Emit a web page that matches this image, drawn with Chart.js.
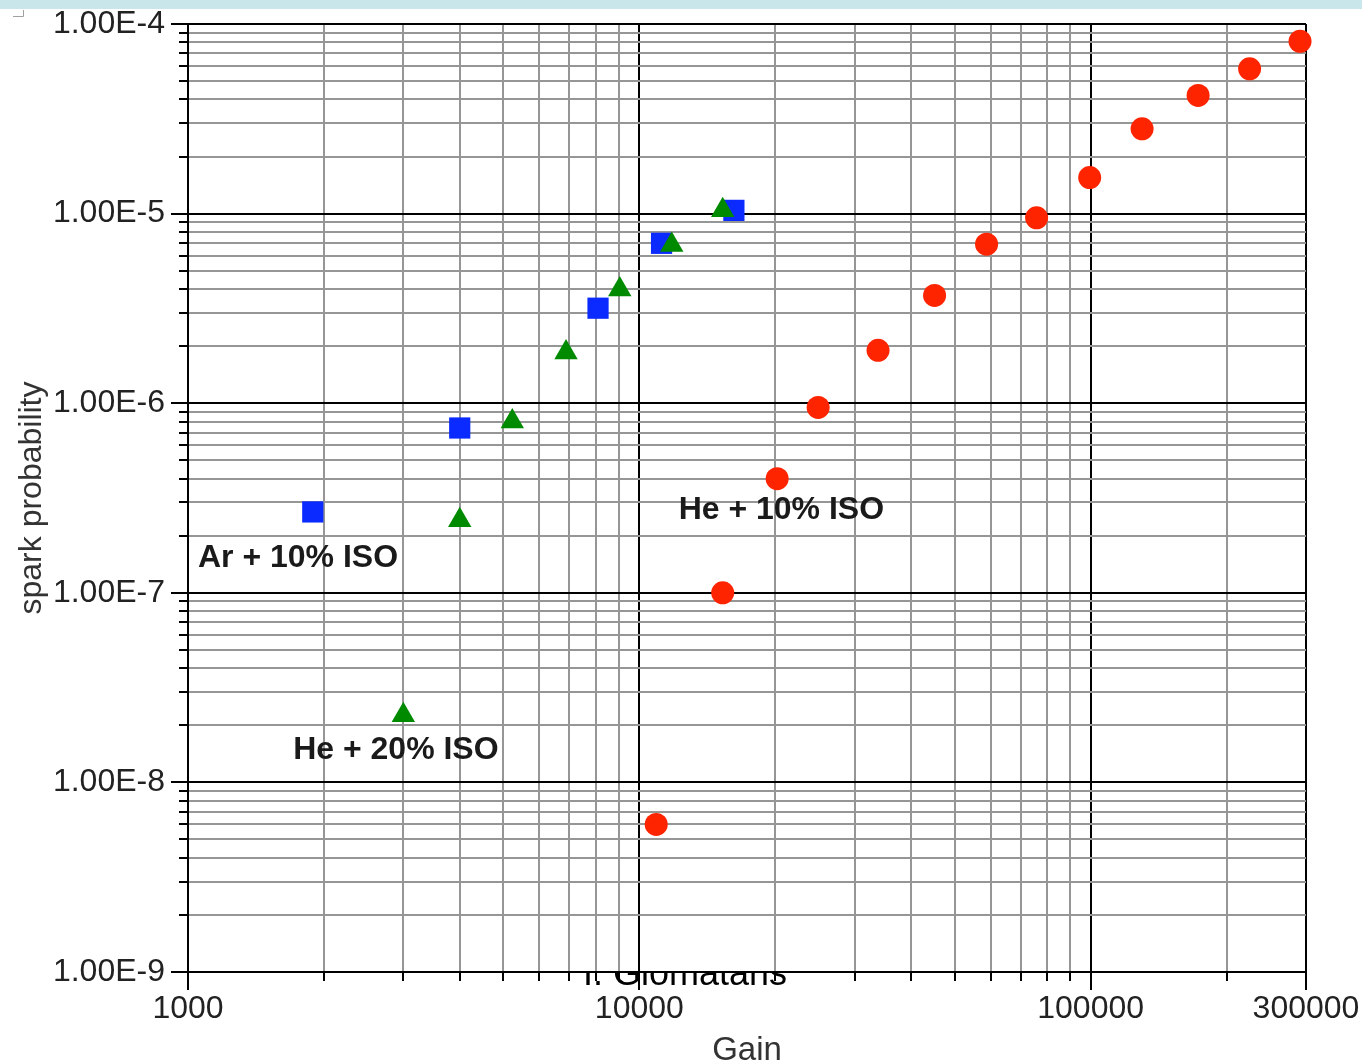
<!DOCTYPE html>
<html>
<head>
<meta charset="utf-8">
<title>Spark probability vs gain</title>
<script src="https://cdn.jsdelivr.net/npm/chart.js@4.4.1/dist/chart.umd.min.js"></script>
<style>
  html, body { margin: 0; padding: 0; background: #fff; }
  canvas { display: block; }
</style>
</head>
<body>
<canvas id="chart" width="1362" height="1062"></canvas>
<script>
// Measured spark probability against gas gain, one pair of arrays per gas mixture
const gainHe20 = [3000, 4000, 5230, 6880, 9050, 11800, 15300];
const probHe20 = [2.26e-8, 2.41e-7, 8.0e-7, 1.85e-6, 3.98e-6, 6.83e-6, 1.04e-5];

const gainAr10 = [1890, 4000, 8100, 11200, 16200];
const probAr10 = [2.67e-7, 7.4e-7, 3.17e-6, 6.97e-6, 1.04e-5];

const gainHe10 = [10900, 15300, 20200, 24900, 33800, 45100, 58800, 75900, 99500, 130000, 173000, 225000, 291000];
const probHe10 = [6.0e-9, 1.0e-7, 4.0e-7, 9.5e-7, 1.9e-6, 3.7e-6, 6.9e-6, 9.5e-6, 1.55e-5, 2.8e-5, 4.2e-5, 5.8e-5, 8.1e-5];

const seriesNames = ['He + 20% ISO', 'Ar + 10% ISO', 'He + 10% ISO'];

// Text labels placed next to each series, anchored in data coordinates
const labelGain = [1710, 1052, 12220];
const labelProb = [1.48e-8, 1.52e-7, 2.73e-7];

// Axis ticks: every 1..9 multiple inside each decade
const xTickValues = [1000, 2000, 3000, 4000, 5000, 6000, 7000, 8000, 9000,
                     10000, 20000, 30000, 40000, 50000, 60000, 70000, 80000, 90000,
                     100000, 200000, 300000];
const xTickLabels = ['1000', '10000', '100000', '300000'];
const yDecadeExps = [-9, -8, -7, -6, -5, -4];
const yTickLabels = ['1.00E-9', '1.00E-8', '1.00E-7', '1.00E-6', '1.00E-5', '1.00E-4'];

const yTickValues = [];
yDecadeExps.forEach((e, i) => {
  const base = Math.pow(10, e);
  const last = i === yDecadeExps.length - 1 ? 1 : 9;
  for (let m = 1; m <= last; m++) yTickValues.push(m * base);
});

const X_MIN = 1000, X_MAX = 300000;
const Y_MIN = 1e-9, Y_MAX = 1e-4;

const isDecade = v => Math.abs(Math.log10(v) - Math.round(Math.log10(v))) < 1e-9;
const xLabelFor = v => {
  const s = String(Math.round(v));
  return xTickLabels.includes(s) ? s : '';
};
const yLabelFor = v => {
  if (!isDecade(v)) return '';
  const idx = yDecadeExps.indexOf(Math.round(Math.log10(v)));
  return idx >= 0 ? yTickLabels[idx] : '';
};

const toPoints = (xs, ys) => xs.map((x, i) => ({x, y: ys[i]}));

const FONT = '"Liberation Sans", Arial, Helvetica, sans-serif';
Chart.defaults.font.family = FONT;
Chart.defaults.color = '#222';

const MINOR_GRID = '#969696';

// White page, pale band at the top, small corner mark and the author caption that sits under the plot frame
const backdrop = {
  id: 'backdrop',
  beforeDraw(chart) {
    const {ctx, chartArea: a, width, height} = chart;
    ctx.save();
    ctx.fillStyle = '#fff';
    ctx.fillRect(0, 0, width, height);
    ctx.fillStyle = '#c9e6ea';
    ctx.fillRect(0, 0, width, 9);

    ctx.strokeStyle = '#a0a0a0';
    ctx.lineWidth = 1;
    ctx.beginPath();
    ctx.moveTo(23.5, 10);
    ctx.lineTo(23.5, 16.5);
    ctx.lineTo(13, 16.5);
    ctx.stroke();

    ctx.fillStyle = '#000';
    ctx.font = '36px ' + FONT;
    ctx.textBaseline = 'alphabetic';
    ctx.textAlign = 'left';
    ctx.fillText('I. Giomataris', a.left + 395, a.bottom + 13);

    ctx.fillStyle = '#fff';
    ctx.fillRect(a.left, a.top, a.right - a.left, a.bottom - a.top);
    ctx.restore();
  }
};

// Longer tick marks at the labelled values
const majorTicks = {
  id: 'majorTicks',
  afterDraw(chart) {
    const {ctx, scales: {x, y}, chartArea: a} = chart;
    ctx.save();
    ctx.strokeStyle = '#000';
    ctx.lineWidth = 2;
    ctx.beginPath();
    xTickValues.filter(v => xLabelFor(v) !== '').forEach(v => {
      const px = Math.round(x.getPixelForValue(v));
      ctx.moveTo(px, a.bottom);
      ctx.lineTo(px, a.bottom + 18);
    });
    yTickValues.filter(isDecade).forEach(v => {
      const py = Math.round(y.getPixelForValue(v));
      ctx.moveTo(a.left - 17, py);
      ctx.lineTo(a.left, py);
    });
    ctx.stroke();
    ctx.restore();
  }
};

// Series names written beside the points
const seriesText = {
  id: 'seriesText',
  afterDatasetsDraw(chart) {
    const {ctx, scales: {x, y}} = chart;
    ctx.save();
    ctx.fillStyle = '#1a1a1a';
    ctx.font = 'bold 32px ' + FONT;
    ctx.textAlign = 'left';
    ctx.textBaseline = 'middle';
    seriesNames.forEach((name, i) => {
      ctx.fillText(name, x.getPixelForValue(labelGain[i]), y.getPixelForValue(labelProb[i]));
    });
    ctx.restore();
  }
};

new Chart(document.getElementById('chart'), {
  type: 'scatter',
  data: {
    datasets: [
      {
        label: seriesNames[0],
        data: toPoints(gainHe20, probHe20),
        pointStyle: 'triangle',
        pointRadius: 13.5,
        pointHoverRadius: 13.5,
        backgroundColor: '#008a00',
        borderWidth: 0,
        clip: false
      },
      {
        label: seriesNames[1],
        data: toPoints(gainAr10, probAr10),
        pointStyle: 'rect',
        pointRadius: 15,
        pointHoverRadius: 15,
        backgroundColor: '#0a2aff',
        borderWidth: 0,
        clip: false
      },
      {
        label: seriesNames[2],
        data: toPoints(gainHe10, probHe10),
        pointStyle: 'circle',
        pointRadius: 11.5,
        pointHoverRadius: 11.5,
        backgroundColor: '#ff2400',
        borderWidth: 0,
        clip: false
      }
    ]
  },
  options: {
    responsive: false,
    animation: false,
    events: [],
    layout: { autoPadding: false, padding: { top: 24, right: 56, left: 0, bottom: 0 } },
    plugins: {
      legend: { display: false },
      tooltip: { enabled: false }
    },
    scales: {
      x: {
        type: 'logarithmic',
        min: X_MIN,
        max: X_MAX,
        afterBuildTicks: s => { s.ticks = xTickValues.map(v => ({value: v})); },
        afterFit: s => { s.height = 90; s.paddingLeft = 0; s.paddingRight = 0; },
        ticks: {
          autoSkip: false,
          maxRotation: 0,
          padding: 9,
          color: '#222',
          font: { size: 32 },
          callback: v => xLabelFor(v)
        },
        grid: {
          color: c => (c.tick && (isDecade(c.tick.value) || c.tick.value === X_MAX)) ? '#000' : MINOR_GRID,
          lineWidth: 2,
          tickColor: '#000',
          tickWidth: 2,
          tickLength: 9
        },
        border: { display: true, color: '#000', width: 2 },
        title: {
          display: true,
          text: 'Gain',
          color: '#333',
          font: { size: 33, lineHeight: 0.7 },
          padding: { top: 0, bottom: 0 }
        }
      },
      y: {
        type: 'logarithmic',
        min: Y_MIN,
        max: Y_MAX,
        afterBuildTicks: s => { s.ticks = yTickValues.map(v => ({value: v})); },
        afterFit: s => { s.width = 188; s.paddingTop = 0; s.paddingBottom = 0; },
        ticks: {
          autoSkip: false,
          padding: 14,
          color: '#222',
          font: { size: 32 },
          callback: v => yLabelFor(v)
        },
        grid: {
          color: c => (c.tick && isDecade(c.tick.value)) ? '#000' : MINOR_GRID,
          lineWidth: 2,
          tickColor: '#000',
          tickWidth: 2,
          tickLength: 9
        },
        border: { display: true, color: '#000', width: 2 },
        title: {
          display: true,
          text: 'spark probability',
          color: '#333',
          font: { size: 32, lineHeight: 1 },
          padding: { top: 16, bottom: 0 }
        }
      }
    }
  },
  plugins: [backdrop, majorTicks, seriesText]
});
</script>
</body>
</html>
